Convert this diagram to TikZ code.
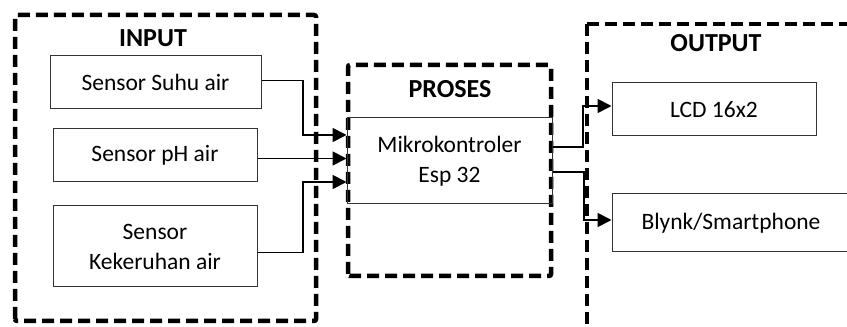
\documentclass[tikz,border=0pt]{standalone}
\usepackage{fontspec}
\setmainfont{Carlito}
\usetikzlibrary{arrows.meta}
\begin{document}
\begin{tikzpicture}[x=1pt,y=1pt,
  group/.style={draw=black,line width=4.5pt,dash pattern=on 12pt off 6pt,rounded corners=2pt},
  title/.style={font=\fontsize{26}{30}\selectfont\bfseries,inner sep=0pt},
  blk/.style={draw=black!80,line width=1pt,minimum height=53pt,align=center,inner sep=0pt,
    font=\fontsize{23.5}{30}\selectfont},
  arr/.style={line width=1.7pt,-{Triangle[length=14pt,width=14pt]}}]
\useasboundingbox (0,0) rectangle (847,327);
\clip (0,0) rectangle (847,327);
% group frames
\draw[group] (15,6) rectangle (316,312);
\draw[group] (348,51) rectangle (551,262);
\draw[group] (587,303) -- (587,-40) (587,303) -- (900,303);
% titles
\node[title] (tin) at (153,289) {INPUT};
\node[title] (tpr) at (450,238) {PROSES};
\node[title] (tout) at (716,284) {OUTPUT};
% blocks
\node[blk,minimum width=211pt] (suhu) at (155.5,244.5) {Sensor Suhu air};
\node[blk,minimum width=204pt] (ph) at (155,171.5) {Sensor pH air};
\node[blk,minimum width=204pt,minimum height=81pt] (kek) at (155,80.5) {Sensor\\Kekeruhan air};
\node[blk,minimum width=205pt,minimum height=86pt] (mc) at (449.5,166) {Mikrokontroler\\Esp 32};
\node[blk,minimum width=204pt] (lcd) at (714,217.5) {LCD 16x2};
\node[blk,minimum width=238pt,minimum height=58pt] (bly) at (731,104) {Blynk/Smartphone};
% connectors
\draw[arr] ([yshift=2pt]suhu.east) -| (303,192) -- (mc.west |- 303,192);
\draw[arr] ([yshift=-3pt]ph.east) -- (mc.west |- 0,168.5);
\draw[arr] ([yshift=-6pt]kek.east) -| (303,145) -- (mc.west |- 303,145);
\draw[arr] (mc.east |- 0,180) -| (583,221) -- (lcd.west |- 583,221);
\draw[arr] (mc.east |- 0,155) -| (584,107) -- (bly.west |- 584,107);
\end{tikzpicture}
\end{document}
